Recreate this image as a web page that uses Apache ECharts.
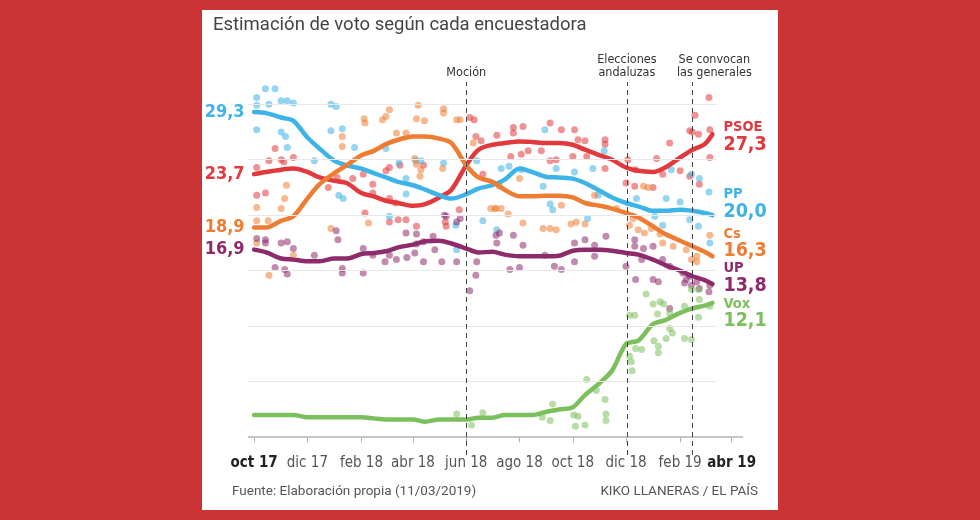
<!DOCTYPE html>
<html>
<head>
<meta charset="utf-8">
<script src="https://cdn.jsdelivr.net/npm/echarts@6.0.0/dist/echarts.min.js"></script>
<style>
  html, body { margin: 0; padding: 0; background: #cb3434; }
  #grafico { width: 980px; height: 520px; }
</style>
</head>
<body>
<div id="grafico"></div>
<script>
// eje x en dias desde el 1 de octubre de 2017
var dias = [0, 14, 31, 45, 61, 75, 92, 106, 123, 137, 151, 165, 182, 196, 212, 226, 243, 257,
  273, 287, 304, 318, 335, 349, 365, 379, 396, 410, 426, 440, 457, 471, 488, 502, 516, 525];

// medias de cada partido
var psoe = [23.7, 23.9, 24.1, 24.2, 23.9, 23.4, 23.1, 22.9, 22.0, 21.7, 21.3, 21.1, 20.85, 21.0, 21.6, 22.3, 24.5, 25.9,
  26.35, 26.5, 26.65, 26.6, 26.5, 26.5, 26.35, 25.9, 25.4, 25.0, 24.3, 24.0, 23.9, 24.3, 25.2, 25.9, 26.4, 27.3];
var pp = [29.3, 29.2, 28.8, 28.5, 27.0, 26.0, 24.9, 24.5, 24.2, 23.8, 23.4, 23.0, 22.7, 22.3, 21.8, 21.5, 21.9, 22.4,
  22.7, 23.2, 24.2, 23.9, 23.45, 23.4, 23.3, 22.9, 22.2, 21.6, 21.1, 20.8, 20.4, 20.4, 20.5, 20.4, 20.2, 20.0];
var cs = [18.9, 18.9, 19.5, 19.9, 21.5, 22.8, 23.8, 24.5, 25.4, 25.8, 26.4, 26.8, 27.1, 27.1, 26.9, 26.5, 24.5, 23.4,
  23.0, 22.3, 21.7, 21.7, 21.75, 21.75, 21.6, 21.1, 20.85, 20.6, 20.2, 19.8, 19.0, 18.3, 17.7, 17.2, 16.7, 16.3];
var up = [16.9, 16.65, 16.1, 16.0, 15.85, 15.85, 16.1, 16.1, 16.5, 16.6, 16.75, 17.1, 17.35, 17.65, 17.7, 17.45, 17.0, 16.65,
  16.7, 16.45, 16.3, 16.3, 16.3, 16.35, 16.8, 16.9, 16.9, 16.8, 16.6, 16.45, 16.0, 15.5, 15.0, 14.5, 14.15, 13.8];
var vox = [2.0, 2.0, 2.0, 2.0, 1.8, 1.8, 1.8, 1.8, 1.8, 1.7, 1.6, 1.6, 1.6, 1.4, 1.6, 1.6, 1.6, 1.75,
  1.75, 2.0, 2.0, 2.0, 2.3, 2.5, 2.7, 3.8, 4.9, 6.0, 8.4, 8.7, 10.2, 10.55, 11.2, 11.6, 11.85, 12.1];

// encuestas sueltas [dia, estimacion]
var puntosPSOE = [[24,26.0],[17,24.9],[31,25.0],[34,24.8],[45,25.2],[3,24.3],[3,21.8],[13,22.0],[85,22.5],[95,23.4],
  [113,23.3],[125,23.7],[127,20.2],[136,22.8],[136,22.0],[247,28.8],[252,28.6],[254,27.1],[260,26.7],[278,27.2],
  [262,23.7],[219,19.4],[220,19.0],[235,20.5],[155,21.5],[162,21.1],[151,24.0],[155,24.3],[167,24.5],[194,24.5],
  [155,19.4],[165,19.6],[174,19.6],[186,19.0],[297,27.9],[297,27.4],[308,28.0],[329,25.8],[339,28.3],[352,27.7],
  [367,27.7],[371,26.8],[379,26.7],[402,26.8],[402,26.4],[402,24.2],[306,25.5],[294,25.3],[339,24.9],[346,25.0],
  [365,25.3],[381,25.3],[314,25.8],[521,30.6],[505,29.0],[499,27.6],[502,27.5],[509,27.3],[522,27.7],[522,25.2],
  [476,26.5],[461,25.1],[428,25.0],[437,24.1],[436,22.6],[457,22.5],[426,22.9],[468,23.7],[488,24.0],[510,22.8],[499,23.5]];
var puntosPP = [[3,30.6],[3,29.9],[13,31.4],[24,31.4],[17,30.0],[31,30.3],[38,30.3],[45,30.1],[3,27.7],[31,27.5],
  [36,27.1],[38,26.1],[88,30.0],[94,29.8],[88,27.6],[101,27.8],[115,26.1],[69,24.9],[97,21.8],[102,21.5],
  [151,26.0],[185,24.9],[191,24.9],[166,24.7],[174,23.3],[155,19.9],[174,21.9],[217,24.7],[231,19.1],[262,19.5],
  [232,16.9],[255,24.9],[333,27.7],[346,24.2],[283,24.2],[292,24.4],[306,24.1],[331,22.6],[342,20.5],[339,21.0],
  [367,23.9],[388,24.2],[401,25.8],[394,21.8],[382,19.7],[278,18.7],[521,22.1],[510,23.3],[501,23.7],[509,19.0],
  [472,21.5],[438,21.5],[478,24.1],[488,21.2],[468,19.1],[459,19.9],[522,17.5],[499,19.6]];
var puntosCs = [[37,22.7],[35,21.5],[31,20.6],[3,20.7],[3,19.5],[16,19.5],[3,17.5],[45,16.4],[17,14.6],[88,18.8],
  [101,27.1],[101,26.2],[126,28.7],[127,28.3],[131,19.3],[188,29.9],[217,29.6],[217,29.2],[155,29.5],[151,28.9],
  [147,28.6],[186,28.7],[195,28.5],[232,28.6],[236,28.6],[163,27.4],[174,27.4],[186,24.6],[191,24.1],[190,23.5],
  [184,25.1],[216,24.2],[251,26.5],[271,20.6],[277,20.6],[304,23.3],[281,22.6],[283,20.6],[291,20.1],[308,19.3],
  [331,18.8],[339,18.8],[346,18.7],[363,19.2],[369,19.4],[379,19.2],[352,20.9],[390,21.8],[415,20.6],[276,20.6],
  [430,19.1],[440,18.7],[447,18.4],[455,18.8],[465,18.3],[468,17.5],[480,17.2],[495,16.9],[507,15.8],[507,16.3],
  [522,18.2],[501,16.0],[434,19.7],[446,22.6],[451,22.5]];
var puntosUP = [[3,17.9],[13,17.8],[13,17.5],[31,17.5],[38,17.6],[45,17.0],[24,15.3],[35,15.1],[38,14.7],[94,18.6],
  [96,17.8],[69,16.4],[101,15.2],[101,14.8],[125,17.0],[136,16.4],[125,14.8],[174,18.4],[186,18.3],[186,17.4],
  [194,17.6],[205,18.1],[218,20.0],[220,19.9],[236,19.7],[232,19.4],[155,16.4],[150,15.8],[163,16.0],[175,16.2],
  [184,16.6],[194,15.8],[207,16.9],[215,15.8],[232,15.8],[255,15.8],[277,18.2],[278,17.5],[247,13.2],[254,14.6],
  [281,18.4],[297,18.2],[308,17.3],[367,17.5],[379,17.8],[390,17.3],[403,18.1],[293,15.1],[304,15.3],[344,15.4],
  [352,15.1],[367,15.8],[333,16.4],[390,16.3],[436,17.8],[436,17.2],[446,17.0],[457,17.2],[468,16.0],[476,15.4],
  [457,14.2],[491,14.8],[495,14.2],[499,14.5],[507,14.0],[522,13.7],[510,13.4],[476,11.6],[426,15.4],[444,16.0],
  [437,14.2],[463,14.0],[493,13.9],[501,13.7],[521,13.1]];
var puntosVox = [[232,2.1],[249,1.1],[262,2.2],[342,3.0],[330,1.8],[339,1.5],[366,2.0],[371,1.9],[368,1.0],[379,1.1],
  [381,5.2],[392,4.2],[402,3.4],[403,2.1],[403,1.5],[430,11.0],[436,11.0],[430,7.3],[432,6.8],[433,6.0],
  [437,8.0],[444,7.9],[449,12.9],[457,12.0],[469,12.0],[462,11.1],[458,8.7],[463,8.2],[463,7.6],[472,8.9],
  [476,9.8],[479,9.4],[493,8.9],[493,11.8],[501,13.3],[501,8.8],[509,10.8],[509,13.3],[465,12.2],[510,12.4],
  [522,11.8],[476,11.2]];

// etiquetas del eje (cada dos meses)
var marcasMes = [0, 61, 123, 182, 243, 304, 365, 426, 488, 547];
var nombresMes = ['oct 17', 'dic 17', 'feb 18', 'abr 18', 'jun 18', 'ago 18', 'oct 18', 'dic 18', 'feb 19', 'abr 19'];

// hitos
var diasHito = [243, 427, 502];
var textosHito = ['Moción', 'Elecciones\nandaluzas', 'Se convocan\nlas generales'];

var lineasGuia = [5, 10, 15, 20, 25, 30];

var ESTRECHA = "'Liberation Sans Narrow', 'DejaVu Sans Condensed', 'Roboto Condensed', Roboto, sans-serif";
var fmt = function (v) { return v.toFixed(1).replace('.', ','); };

var partidos = [
  { nombre: 'PSOE', color: '#e1393d', linea: psoe, puntos: puntosPSOE, dy: 3, inicio: true },
  { nombre: 'PP', color: '#3eb3e8', linea: pp, puntos: puntosPP, dy: -11, inicio: true },
  { nombre: 'Cs', color: '#ee7d33', linea: cs, puntos: puntosCs, dy: -13, inicio: true },
  { nombre: 'UP', color: '#8d2b6b', linea: up, puntos: puntosUP, dy: -6, inicio: true },
  { nombre: 'Vox', color: '#7cbf5c', linea: vox, puntos: puntosVox, dy: 11, inicio: false }
];

var series = [];

// guias horizontales y linea del cero
series.push({
  type: 'line', data: [], silent: true, z: 0,
  markLine: {
    silent: true, symbol: ['none', 'none'], animation: false,
    label: { show: false },
    data: lineasGuia.map(function (v) {
      return [{ coord: [-7, v], lineStyle: { color: '#e8e8e8', width: 1, type: 'solid' } }, { coord: [530, v] }];
    }).concat([[{ coord: [-7, 0], lineStyle: { color: '#c6c6c6', width: 2, type: 'solid' } }, { coord: [560, 0] }]])
  }
});

partidos.forEach(function (p) {
  series.push({
    type: 'scatter', name: p.nombre + ' encuestas', z: 1,
    data: p.puntos, symbolSize: 7, clip: false,
    itemStyle: { color: p.color, opacity: 0.55 }
  });
});

// lineas de hitos
series.push({
  type: 'line', data: [], silent: true, z: 2,
  markLine: {
    silent: true, symbol: ['none', 'none'], animation: false,
    lineStyle: { color: '#444', width: 1, type: [5, 4] },
    data: diasHito.map(function (d, i) {
      return [{ coord: [d, -1.6] }, {
        coord: [d, 32],
        label: {
          show: true, position: 'end', distance: 3, formatter: textosHito[i],
          color: '#333', fontSize: 12.5, fontFamily: ESTRECHA, lineHeight: 13,
          offset: i === 2 ? [22, 0] : [0, 0]
        }
      }];
    })
  }
});

partidos.forEach(function (p) {
  var datos = dias.map(function (d, i) {
    var item = { value: [d, p.linea[i]] };
    if (i === 0 && p.inicio) {
      item.label = {
        show: true, position: 'left', distance: 9, formatter: fmt(p.linea[0]),
        color: p.color, fontSize: 18, fontWeight: 'bold', fontFamily: ESTRECHA
      };
    }
    return item;
  });
  var ultimo = p.linea[p.linea.length - 1];
  series.push({
    type: 'line', name: p.nombre, z: 3, data: datos,
    showSymbol: true, symbol: 'circle', symbolSize: 1, smooth: 0.3, clip: false,
    lineStyle: { color: p.color, width: 4.5, cap: 'round', join: 'round' },
    itemStyle: { color: p.color },
    endLabel: {
      show: true, distance: 11, offset: [0, p.dy],
      formatter: '{n|' + p.nombre + '}\n{v|' + fmt(ultimo) + '}',
      rich: {
        n: { fontSize: 14.5, fontWeight: 'bold', color: p.color, fontFamily: ESTRECHA, lineHeight: 15 },
        v: { fontSize: 19.5, fontWeight: 'bold', color: p.color, fontFamily: ESTRECHA, lineHeight: 19 }
      }
    }
  });
});

var grafico = echarts.init(document.getElementById('grafico'), null, { renderer: 'canvas' });
grafico.setOption({
  animation: false,
  backgroundColor: '#cb3434',
  title: {
    text: 'Estimación de voto según cada encuestadora',
    left: 208, top: 11,
    textStyle: { fontFamily: 'Roboto, sans-serif', fontSize: 18.5, fontWeight: 'normal', color: '#444' }
  },
  graphic: [
    { type: 'rect', z: -10, silent: true, shape: { x: 202, y: 10, width: 576, height: 500 }, style: { fill: '#fff' } },
    { type: 'text', left: 232, top: 485, style: { text: 'Fuente: Elaboración propia (11/03/2019)', fill: '#555', font: '13.5px Roboto, sans-serif' } },
    { type: 'text', right: 222, top: 485, style: { text: 'KIKO LLANERAS / EL PAÍS', fill: '#555', font: '13.5px Roboto, sans-serif' } }
  ],
  // el cero queda en y=437 y el borde inferior baja hasta y=455
  grid: { left: 248, right: 237, top: 82, bottom: 65 },
  xAxis: {
    type: 'value', min: -7, max: 560, offset: -9,
    splitLine: { show: false },
    axisLine: { show: false },
    axisTick: { show: true, customValues: marcasMes, length: 5, lineStyle: { color: '#b0b0b0' } },
    axisLabel: {
      customValues: marcasMes, margin: 10,
      formatter: function (v) {
        var i = marcasMes.indexOf(v);
        if (i < 0) return '';
        if (i === 0 || i === marcasMes.length - 1) return '{b|' + nombresMes[i] + '}';
        return nombresMes[i];
      },
      color: '#555', fontSize: 15, fontFamily: ESTRECHA,
      rich: { b: { fontSize: 15, fontWeight: 'bold', color: '#222', fontFamily: ESTRECHA } }
    }
  },
  yAxis: { type: 'value', min: -1.6, max: 32, show: false, splitLine: { show: false } },
  series: series
});
</script>
</body>
</html>
